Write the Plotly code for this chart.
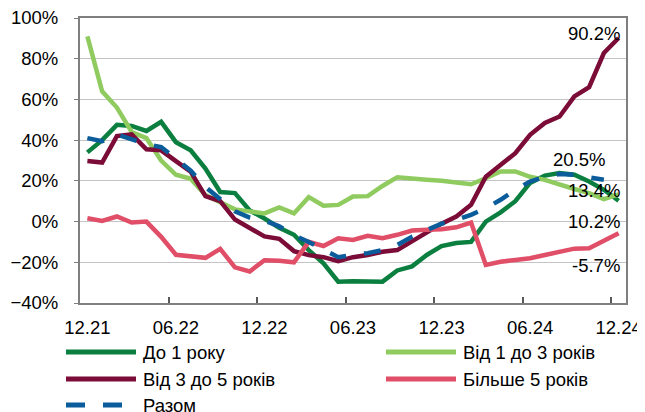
import plotly.graph_objects as go

# monthly points 12.21 .. 12.24
months = ["12.21", "01.22", "02.22", "03.22", "04.22", "05.22", "06.22", "07.22", "08.22", "09.22",
          "10.22", "11.22", "12.22", "01.23", "02.23", "03.23", "04.23", "05.23", "06.23", "07.23",
          "08.23", "09.23", "10.23", "11.23", "12.23", "01.24", "02.24", "03.24", "04.24", "05.24",
          "06.24", "07.24", "08.24", "09.24", "10.24", "11.24", "12.24"]
tick_labels = ["12.21", "06.22", "12.22", "06.23", "12.23", "06.24", "12.24"]

do_1 = [34, 40, 47.5, 47, 44.5, 49, 39, 35, 26, 14.5, 14, 5.5, 1.5, -3, -6.5, -14, -20.5, -29.5, -29.3,
        -29.5, -29.5, -24, -22, -16.4, -12, -10.5, -10, 0, 4.5, 10, 19, 22.6, 23.8, 23, 19.7, 15.6, 10.2]
vid_1_3 = [91, 64, 56, 44, 41, 30, 23, 21, 13, 9.5, 6, 5, 4, 7, 4, 12, 7.8, 8.2, 12.3, 12.5, 17.5, 21.8,
           21, 20.5, 20, 19, 18.3, 21.3, 24.6, 24.6, 22, 20.5, 18, 16, 14, 11, 13.4]
vid_3_5 = [29.7, 29, 42, 42.8, 35.5, 35, 29.7, 24.5, 12.5, 10, 1, -3, -7.3, -8.5, -14.5, -16.5, -17.5,
           -19.5, -17.5, -16.4, -14.8, -14, -9.8, -5.7, -1, 2.5, 8.2, 22, 28, 33.6, 42.6, 48.4, 51.6,
           61.5, 66, 82.8, 90.2]
bilshe_5 = [1.6, 0.3, 2.5, -0.5, 0, -7.5, -16.3, -16.8, -17.8, -13.4, -22.5, -24.5, -19, -19.2, -20,
            -10, -12, -8.2, -9, -7, -8.2, -6.5, -4.4, -4, -3.8, -2.8, -0.5, -21.3, -19.7, -18.9, -18,
            -16.4, -14.8, -13.3, -13.1, -9.3, -5.7]
razom = [41, 39.5, 42.8, 40.4, 38, 36.6, 31, 25, 17, 11, 5, 2, 0.5, -2.3, -6.7, -10, -14, -17.5, -16.4,
         -15.5, -14, -11.5, -7.4, -4, -1, 0.8, 3.3, 6.6, 10.7, 15.6, 19.7, 22, 23.4, 23, 22, 20.5, None]

names = ["До 1 року", "Від 1 до 3 років", "Від 3 до 5 років", "Більше 5 років", "Разом"]
colors = ["#0A7F3F", "#8FCB5F", "#7B0B37", "#E04E67", "#0B5C9B"]
series = [do_1, vid_1_3, vid_3_5, bilshe_5, razom]

# end labels and their pixel offsets
end_labels = ["10.2%", "13.4%", "90.2%", "-5.7%", "20.5%"]
label_shift = [-21, 4, 4, -32, 20]

FONT = "Liberation Sans, Arial, sans-serif"
idx = list(range(len(months)))

fig = go.Figure()
for name, color, vals in zip(names, colors, series):
    fig.add_trace(go.Scatter(
        x=idx, y=vals, mode="lines", name=name,
        line=dict(color=color, width=4.5, dash="17px,18px" if name == "Разом" else "solid"),
        connectgaps=False, showlegend=False))

annotations = []
for vals, txt, sh in zip(series, end_labels, label_shift):
    last = [i for i, v in enumerate(vals) if v is not None][-1]
    annotations.append(dict(x=last, y=vals[last], text=txt, showarrow=False, xanchor="right",
                            xshift=3, yshift=sh, font=dict(size=18.5, color="#000", family=FONT)))

# page has an 8px body margin, so the figure is 8px smaller on each side that counts
OFF = 8
W, H = 645 - OFF, 412 - OFF
L, R, T, B = 80 - OFF, 19, 18 - OFF, 109
pw, ph = W - L - R, H - T - B
def px(x): return (x - OFF - L) / pw
def py(y): return (H - B - (y - OFF)) / ph

# manual legend (page pixel positions converted to paper coords)
legend_pos = [(66, 352), (386, 352), (66, 379), (386, 379), (66, 405)]
shapes = []
for name, color, (lx, ly) in zip(names, colors, legend_pos):
    shapes.append(dict(type="line", xref="paper", yref="paper", x0=px(lx), x1=px(lx + 70),
                       y0=py(ly), y1=py(ly),
                       line=dict(color=color, width=5, dash="19px,18px" if name == "Разом" else "solid")))
    annotations.append(dict(xref="paper", yref="paper", x=px(lx + 75), y=py(ly), text=name,
                            showarrow=False, xanchor="left", yanchor="middle",
                            font=dict(size=18.5, color="#000", family=FONT)))

fig.update_layout(
    width=W, height=H,
    margin=dict(l=L, r=R, t=T, b=B),
    paper_bgcolor="white", plot_bgcolor="white",
    font=dict(family=FONT, size=18.5, color="#000"),
    xaxis=dict(range=[-0.5, 36.5], tickmode="array", tickvals=[0, 6, 12, 18, 24, 30, 36],
               ticktext=tick_labels, ticks="", showgrid=False, zeroline=False, automargin=False,
               showline=True, linecolor="#7F7F7F", linewidth=2, mirror=True,
               ticklabelstandoff=7, ticklabeloverflow="allow",
               minor=dict(tickmode="array", tickvals=[5.5, 11.5, 17.5, 23.5, 29.5, 35.5],
                          ticks="inside", ticklen=6, tickwidth=1.5, tickcolor="#595959",
                          showgrid=False)),
    yaxis=dict(range=[-40, 100], dtick=20, ticksuffix="%", showgrid=True, gridcolor="#C4C4C4",
               gridwidth=1, zeroline=False, showline=True, linecolor="#7F7F7F", linewidth=2,
               mirror=True, ticks="outside", ticklen=4, tickcolor="#7F7F7F", automargin=False,
               ticklabelstandoff=12, ticklabeloverflow="allow"),
    shapes=shapes,
    annotations=annotations,
)

fig.write_html("out.html")
